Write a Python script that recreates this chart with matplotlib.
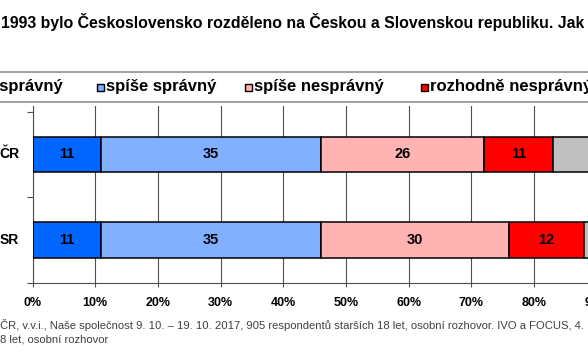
"""Stacked horizontal bar: hodnocení rozdělení Československa (ČR vs SR)."""

import matplotlib

matplotlib.use("Agg")
import matplotlib.pyplot as plt
from matplotlib.patches import Rectangle
from matplotlib.transforms import blended_transform_factory

# --- data -------------------------------------------------------------
countries = ["ČR", "SR"]
answers = ["rozhodně správný", "spíše správný", "spíše nesprávný",
           "rozhodně nesprávný", "neví"]
values_cr = [11, 35, 26, 11, 17]
values_sr = [11, 35, 30, 12, 12]
xticks = [0, 10, 20, 30, 40, 50, 60, 70, 80, 90, 100]

title = ("1993 bylo Československo rozděleno na Českou a Slovenskou "
         "republiku. Jak")
source = ["ČR, v.v.i., Naše společnost 9. 10. – 19. 10. 2017, 905 respondentů "
          "starších 18 let, osobní rozhovor. IVO a FOCUS, 4.",
          "8 let, osobní rozhovor"]

colors = ["#0066ff", "#80b0ff", "#ffb3b3", "#ff0000", "#c0c0c0"]
label_min = 5  # segments narrower than this get no number

plt.rcParams["font.family"] = ["Liberation Sans", "DejaVu Sans"]

W, H = 588, 363
fig = plt.figure(figsize=(W / 100, H / 100), dpi=100)


def fx(px):
    return px / W


def fy(py):
    return 1 - py / H


# axes spans 0–100 % from x=32.5 px to x=659.5 px (beyond the right edge)
ax = fig.add_axes([fx(32.5), fy(283), 627 / W, 177 / H])

rows = [values_cr, values_sr]
ypos = [0, 1]
for y, vals in zip(ypos, rows):
    left = 0
    for v, c in zip(vals, colors):
        ax.barh(y, v, left=left, height=0.41, color=c, edgecolor="black",
                linewidth=1.1, zorder=3)
        if v >= label_min and c != colors[-1]:
            ax.text(left + v / 2, y, str(v), ha="center", va="center",
                    fontsize=10.5, fontweight="bold", zorder=4)
        left += v

ax.set_xlim(0, 100)
ax.set_ylim(1.503, -0.567)
ax.set_xticks(xticks)
ax.set_xticklabels([f"{t}%" for t in xticks], fontsize=9, fontweight="bold")
ax.xaxis.grid(True, color="#505050", linewidth=0.8, zorder=0)
ax.set_yticks([-0.5, 0.5, 1.5])
ax.set_yticklabels([])
ax.tick_params(axis="y", length=4, color="#505050", width=0.8)
ax.tick_params(axis="x", length=3, color="#505050", width=0.8, pad=7)

label_tr = blended_transform_factory(fig.transFigure, ax.transData)
for yy, name in zip(ypos, countries):
    fig.text(fx(19), yy, name, transform=label_tr, ha="right", va="center",
             fontsize=10, fontweight="bold")

for s in ["top", "right"]:
    ax.spines[s].set_visible(False)
for s in ["left", "bottom"]:
    ax.spines[s].set_color("#505050")
    ax.spines[s].set_linewidth(0.8)

# title
fig.text(fx(1), fy(22), title, ha="left", va="center", fontsize=11.4,
         fontweight="bold")

# legend strip
fig.add_artist(Rectangle((fx(-10), fy(102)), fx(620), (102 - 72) / H,
                         transform=fig.transFigure, fill=False,
                         edgecolor="#909090", linewidth=1.2))
legend_x = [-80, 106, 254, 430]
for x0, name, c in zip(legend_x, answers, colors):
    fig.add_artist(Rectangle((fx(x0 - 9), fy(91)), fx(7), 7 / H,
                             transform=fig.transFigure, facecolor=c,
                             edgecolor="black", linewidth=1.0))
    fig.text(fx(x0), fy(87), name, ha="left", va="center",
             fontsize=12, fontweight="bold")

# source
for i, line in enumerate(source):
    fig.text(fx(0), fy(325 + 15 * i), line, ha="left", va="center",
             fontsize=8.1, color="#404040")

fig.savefig("out.png", dpi=100)
plt.close(fig)
